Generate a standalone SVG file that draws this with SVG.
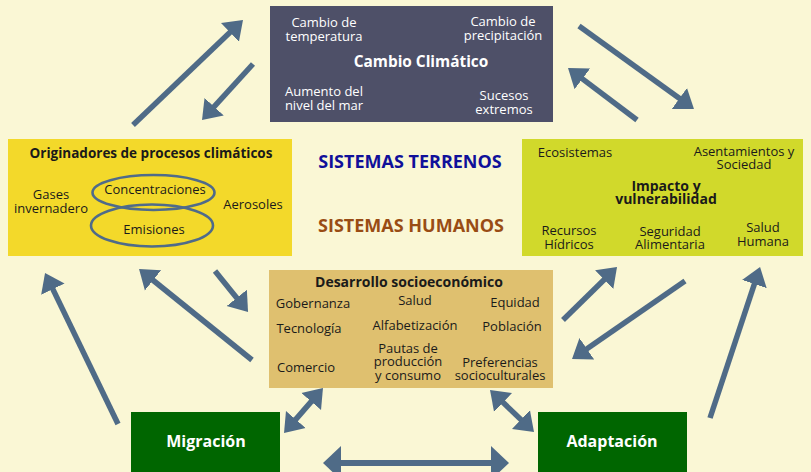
<svg xmlns="http://www.w3.org/2000/svg" width="811" height="472" viewBox="0 0 811 472">
<style>
text{font-family:"Open Sans","Noto Sans","Liberation Sans",sans-serif;text-anchor:middle}
.w{fill:#ffffff;font-size:13px}
.k{fill:#1a1a1a;font-size:13px}
.b{font-weight:bold;font-size:13.5px}
.arr{stroke:#4F6B87;stroke-width:5.5;fill:none}
.ell{fill:none;stroke:#4F6B8A;stroke-width:2.6}
</style>
<defs>
<marker id="ah" markerUnits="userSpaceOnUse" markerWidth="20" markerHeight="28" viewBox="0 -14 20 28" refX="2" refY="0" orient="auto-start-reverse">
<path d="M0,-13 L18,0 L0,13 Z" fill="#4F6B87"/>
</marker>
<marker id="ahb" markerUnits="userSpaceOnUse" markerWidth="20" markerHeight="36" viewBox="0 -18 20 36" refX="2" refY="0" orient="auto-start-reverse">
<path d="M0,-17 L18,0 L0,17 Z" fill="#4F6B87"/>
</marker>
</defs>
<rect x="0" y="0" width="811" height="472" fill="#FAF7D5"/>

<g id="cambio-climatico">
<rect x="270" y="6" width="283" height="116" fill="#4E5068"/>
<text class="w" x="324" y="27">Cambio de</text>
<text class="w" x="324" y="41">temperatura</text>
<text class="w" x="503" y="26">Cambio de</text>
<text class="w" x="503" y="40">precipitación</text>
<text class="w b" x="421" y="67" style="font-size:15.4px">Cambio Climático</text>
<text class="w" x="324" y="96">Aumento del</text>
<text class="w" x="324" y="110">nivel del mar</text>
<text class="w" x="504" y="100">Sucesos</text>
<text class="w" x="504" y="114">extremos</text>
</g>

<g id="originadores">
<rect x="8" y="139" width="284" height="117" fill="#F3D92A"/>
<text class="k b" x="151" y="158">Originadores de procesos climáticos</text>
<ellipse class="ell" cx="153.5" cy="192.5" rx="61" ry="17.5"/>
<ellipse class="ell" cx="152" cy="225.5" rx="61" ry="21"/>
<text class="k" x="155" y="194">Concentraciones</text>
<text class="k" x="154" y="234">Emisiones</text>
<text class="k" x="51" y="199">Gases</text>
<text class="k" x="51" y="213">invernadero</text>
<text class="k" x="253" y="209">Aerosoles</text>
</g>

<g id="impacto">
<rect x="522" y="139" width="281" height="117" fill="#D1D92B"/>
<text class="k" x="575" y="157">Ecosistemas</text>
<text class="k" x="744" y="156">Asentamientos y</text>
<text class="k" x="744" y="169">Sociedad</text>
<text class="k b" x="666" y="191" style="font-size:14px">Impacto y</text>
<text class="k b" x="666" y="204" style="font-size:14px">vulnerabilidad</text>
<text class="k" x="569" y="235">Recursos</text>
<text class="k" x="569" y="249">Hídricos</text>
<text class="k" x="670" y="236">Seguridad</text>
<text class="k" x="670" y="249">Alimentaria</text>
<text class="k" x="763" y="232">Salud</text>
<text class="k" x="763" y="246">Humana</text>
</g>

<g id="desarrollo">
<rect x="269" y="270" width="284" height="118" fill="#DFC06F"/>
<text class="k b" x="409" y="287" style="font-size:14px">Desarrollo socioeconómico</text>
<text class="k" x="313" y="308">Gobernanza</text>
<text class="k" x="415" y="305">Salud</text>
<text class="k" x="515" y="307">Equidad</text>
<text class="k" x="309" y="333">Tecnología</text>
<text class="k" x="415" y="330">Alfabetización</text>
<text class="k" x="512" y="331">Población</text>
<text class="k" x="306" y="372">Comercio</text>
<text class="k" x="408" y="353">Pautas de</text>
<text class="k" x="408" y="366">producción</text>
<text class="k" x="408" y="380">y consumo</text>
<text class="k" x="500" y="367">Preferencias</text>
<text class="k" x="500" y="380">socioculturales</text>
</g>

<g id="sistemas">
<text x="410" y="168" style="font-size:18px;font-weight:bold;fill:#10109A">SISTEMAS TERRENOS</text>
<text x="411" y="232" style="font-size:18px;font-weight:bold;fill:#994C14">SISTEMAS HUMANOS</text>
</g>

<g id="migracion">
<rect x="131" y="412" width="149" height="60" fill="#006600"/>
<text class="w b" x="206" y="447" style="font-size:16px">Migración</text>
</g>

<g id="adaptacion">
<rect x="538" y="412" width="149" height="60" fill="#006600"/>
<text class="w b" x="612" y="447" style="font-size:16px">Adaptación</text>
</g>

<g id="connectors">
<line class="arr" x1="133" y1="125" x2="231.4" y2="31" marker-end="url(#ah)"/>
<line class="arr" x1="253" y1="64" x2="212.8" y2="108.2" marker-end="url(#ah)"/>
<line class="arr" x1="579" y1="26" x2="681" y2="99.6" marker-end="url(#ah)"/>
<line class="arr" x1="637" y1="120" x2="580.8" y2="77.6" marker-end="url(#ah)"/>
<line class="arr" x1="252" y1="360" x2="151.5" y2="279" marker-end="url(#ah)"/>
<line class="arr" x1="215" y1="271" x2="238" y2="299.5" marker-end="url(#ah)"/>
<line class="arr" x1="563" y1="320" x2="605.6" y2="278.2" marker-end="url(#ah)"/>
<line class="arr" x1="685" y1="281" x2="585.2" y2="349.9" marker-end="url(#ah)"/>
<line class="arr" x1="118" y1="424" x2="52" y2="287.4" marker-end="url(#ah)"/>
<line class="arr" x1="710" y1="418" x2="755" y2="282.2" marker-end="url(#ah)"/>
<line class="arr" x1="294.5" y1="420.9" x2="312.5" y2="400.1" marker-start="url(#ah)" marker-end="url(#ah)"/>
<line class="arr" x1="501.6" y1="401.1" x2="522.4" y2="420.9" marker-start="url(#ah)" marker-end="url(#ah)"/>
<line class="arr" x1="339" y1="463" x2="493" y2="463" marker-start="url(#ahb)" marker-end="url(#ahb)" style="stroke-width:6"/>
</g>
</svg>
